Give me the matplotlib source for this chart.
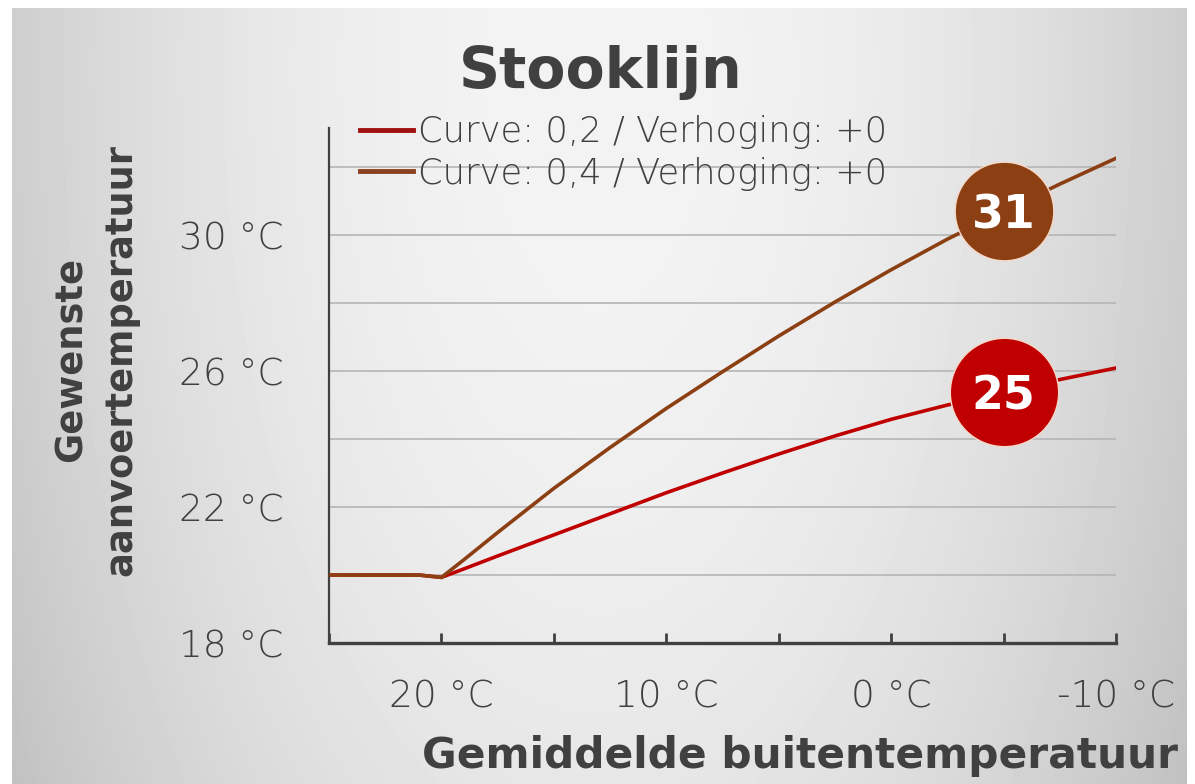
import numpy as np
import matplotlib
matplotlib.use("Agg")
import matplotlib.pyplot as plt
from matplotlib.ticker import FixedLocator

plt.rcParams['font.family'] = ['DejaVu Sans']

# data
outside_temp = [25, 21, 20, 19, 17.5, 15, 12.5, 10, 7.5, 5, 2.5, 0, -2.5, -5, -7.5, -10]
curve_02 = [20.0, 20.0, 19.93, 20.18, 20.56, 21.18, 21.8, 22.42, 23.0, 23.56,
            24.09, 24.58, 25.0, 25.38, 25.75, 26.09]
curve_04 = [20.0, 20.0, 19.93, 20.45, 21.25, 22.55, 23.75, 24.9, 25.98, 27.03,
            28.03, 28.98, 29.88, 30.7, 31.5, 32.26]
series_names = ["Curve: 0,2 / Verhoging: +0", "Curve: 0,4 / Verhoging: +0"]
badge_x = -5
badge_text = ["25", "31"]

x_ticks = [25, 20, 15, 10, 5, 0, -5, -10]
x_ticklabels = ["", "20 °C", "", "10 °C", "", "0 °C", "", "-10 °C"]
y_ticks = [18, 22, 26, 30]
y_ticklabels = ["18 °C", "22 °C", "26 °C", "30 °C"]
y_grid = [20, 22, 24, 26, 28, 30, 32]

RED = "#C00000"
BROWN = "#8B3F12"
TXT = "#404040"

W, H = 1195, 784
fig = plt.figure(figsize=(W / 100, H / 100), dpi=100, facecolor="white")

# grey gradient panel behind everything
bg = fig.add_axes([12 / W, 0, (1187 - 12) / W, 1 - 8 / H], zorder=-10)
yy, xx = np.mgrid[0:776, 0:1175]
v = 0.955 - 0.15 * ((xx - 585) / 590.0) ** 2 - 0.05 * ((yy - 60) / 716.0) ** 2
bg.imshow(v, cmap="gray", vmin=0, vmax=1, aspect="auto", interpolation="bilinear")
bg.axis("off")

ax = fig.add_axes([329 / W, 1 - 643 / H, (1116 - 329) / W, (643 - 128) / H])
ax.patch.set_alpha(0)

l1, = ax.plot(outside_temp, curve_02, color=RED, lw=2.6, zorder=3)
l2, = ax.plot(outside_temp, curve_04, color=BROWN, lw=2.6, zorder=4)

# value badges
i = outside_temp.index(badge_x)
for yv, txt, col, ms in [(curve_02[i], badge_text[0], RED, 78), (curve_04[i], badge_text[1], BROWN, 71)]:
    ax.plot([badge_x], [yv], "o", ms=ms, color=col, mec="#F6D9C8", mew=1, zorder=6, clip_on=False)
    ax.text(badge_x, yv, txt, color="white", fontsize=33, fontweight="bold",
            ha="center", va="center_baseline", zorder=7)

ax.set_xlim(25, -10)
ax.set_ylim(18, 33.15)
ax.set_xticks(x_ticks, x_ticklabels)
ax.set_yticks(y_ticks, y_ticklabels)
ax.yaxis.set_minor_locator(FixedLocator(y_grid))
ax.grid(axis="y", which="both", color="#B5B5B5", lw=1.2, zorder=1)
ax.set_axisbelow(True)

for s in ["top", "right"]:
    ax.spines[s].set_visible(False)
ax.spines["left"].set_color(TXT)
ax.spines["left"].set_linewidth(1.6)
ax.spines["bottom"].set_color(TXT)
ax.spines["bottom"].set_linewidth(2.4)

ax.tick_params(axis="x", direction="in", length=7, width=2, color=TXT, pad=26,
               labelsize=27, labelcolor=TXT)
ax.tick_params(axis="y", which="both", length=0, pad=33, labelsize=27, labelcolor=TXT)
for t in ax.get_xticklabels() + ax.get_yticklabels():
    t.set_fontweight("light")

leg = ax.legend([l1, l2], series_names, loc="upper left", bbox_to_anchor=(360 / W, 1 - 115 / H),
                bbox_transform=fig.transFigure, frameon=False, fontsize=25.5,
                handlelength=1.5, handletextpad=0.15, labelspacing=0.22,
                borderpad=0, borderaxespad=0)
for t in leg.get_texts():
    t.set_color(TXT)
    t.set_fontweight("light")
leg.get_lines()[0].set_color("#A01010")
leg.get_lines()[1].set_color("#8B4020")
for ln in leg.get_lines():
    ln.set_linewidth(3.5)

fig.text(601 / W, 1 - 72 / H, "Stooklijn", ha="center", va="center",
         fontsize=41, fontweight="bold", color=TXT)
fig.text(800 / W, 1 - 768 / H, "Gemiddelde buitentemperatuur", ha="center", va="baseline",
         fontsize=30.5, fontweight="bold", color=TXT)
fig.text(96 / W, 1 - 360 / H, "Gewenste\naanvoertemperatuur", ha="center", va="center",
         rotation=90, fontsize=26.5, fontweight="bold", color=TXT, linespacing=1.45)

fig.savefig("out.png", dpi=100, facecolor="white")
